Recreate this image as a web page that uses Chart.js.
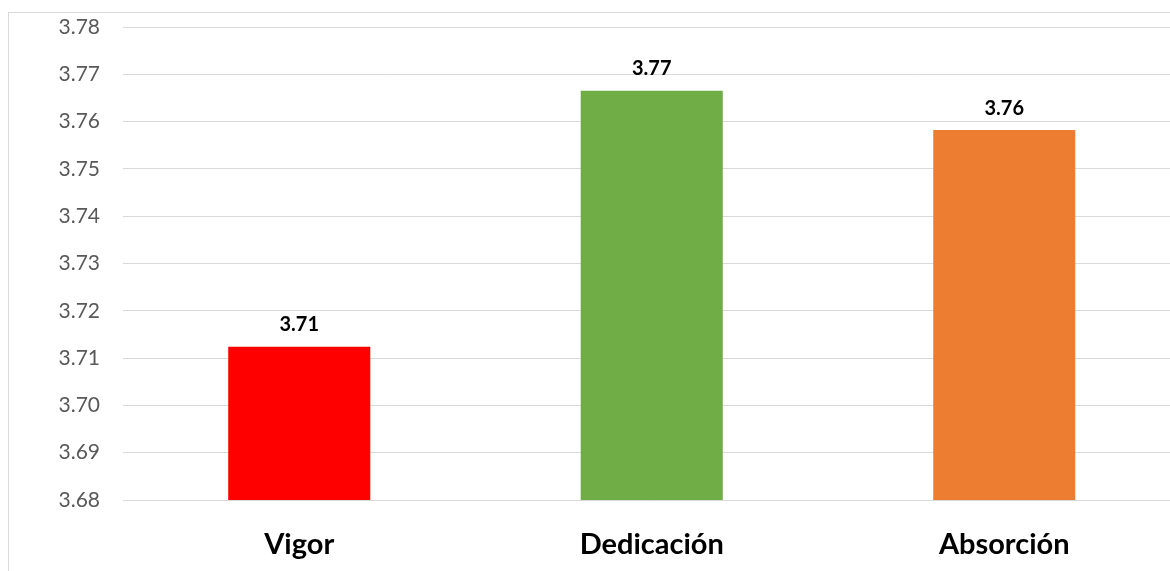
<!DOCTYPE html>
<html>
<head>
<meta charset="utf-8">
<script src="https://cdn.jsdelivr.net/npm/chart.js@4/dist/chart.umd.min.js"></script>
<style>
  html, body { margin: 0; padding: 0; background: #fff; overflow: hidden; width: 1170px; height: 571px; }
  #frame { position: absolute; left: 8px; top: 12px; width: 1200px; height: 600px; border: 1px solid #d9d9d9; box-sizing: border-box; }
  #wrap { position: absolute; left: 0; top: 0; width: 1190px; height: 571px; }
</style>
</head>
<body>
<div id="frame"></div>
<div id="wrap"><canvas id="c" width="1190" height="571"></canvas></div>
<script>
// Dimensiones de engagement: medias por dimensión
const categories = ['Vigor', 'Dedicación', 'Absorción'];
const means = [3.7124, 3.7665, 3.7582];
const barColors = ['#FF0000', '#70AD47', '#ED7D31'];
const yMin = 3.68, yMax = 3.78, yStep = 0.01;

// Etiquetas de valor sobre cada barra (dos decimales)
const valueLabels = {
  id: 'valueLabels',
  afterDatasetsDraw(chart) {
    const ctx = chart.ctx;
    const meta = chart.getDatasetMeta(0);
    ctx.save();
    ctx.font = 'bold 20px Lato, "Open Sans", sans-serif';
    ctx.fillStyle = '#000';
    ctx.textAlign = 'center';
    ctx.textBaseline = 'bottom';
    meta.data.forEach((bar, i) => {
      ctx.fillText(means[i].toFixed(2), bar.x, bar.y - 12);
    });
    ctx.restore();
  }
};

new Chart(document.getElementById('c'), {
  type: 'bar',
  data: {
    labels: categories,
    datasets: [{
      data: means,
      backgroundColor: barColors,
      borderWidth: 0,
      barPercentage: 0.403,
      categoryPercentage: 1.0
    }]
  },
  options: {
    responsive: false,
    animation: false,
    devicePixelRatio: 1,
    layout: { padding: { left: 0, top: 27, right: 9.5, bottom: 0 } },
    plugins: { legend: { display: false }, tooltip: { enabled: false } },
    scales: {
      x: {
        grid: { display: false, drawTicks: false },
        border: { display: false },
        ticks: {
          color: '#000',
          padding: 27,
          font: { family: 'Lato, "Open Sans", sans-serif', size: 29, weight: 'bold' }
        },
        afterFit(scale) { scale.height = 71; scale.paddingLeft = 0; scale.paddingRight = 0; }
      },
      y: {
        min: yMin,
        max: yMax,
        grid: { color: '#d9d9d9', lineWidth: 1, drawTicks: false },
        border: { display: false },
        ticks: {
          stepSize: yStep,
          color: '#595959',
          padding: 23,
          font: { family: 'Lato, "Open Sans", sans-serif', size: 21 },
          callback: (v) => Number(v).toFixed(2)
        },
        afterFit(scale) { scale.width = 123; scale.paddingTop = 0; scale.paddingBottom = 0; }
      }
    }
  },
  plugins: [valueLabels]
});
</script>
</body>
</html>
